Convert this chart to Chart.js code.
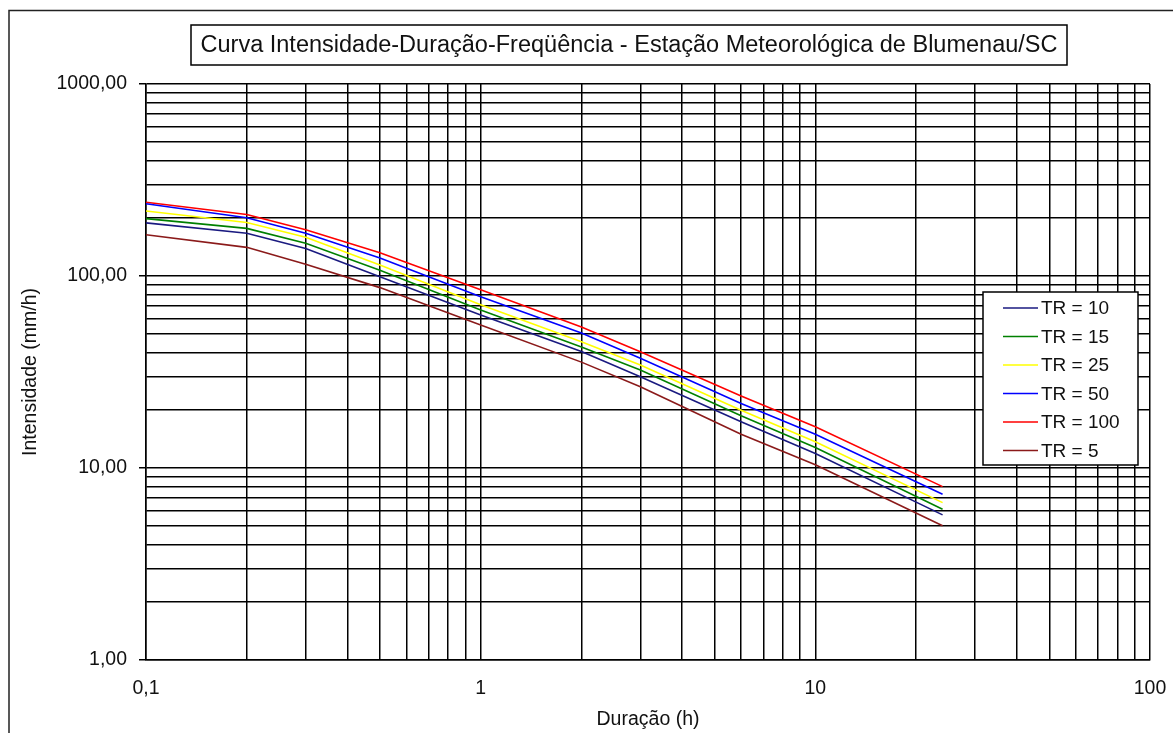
<!DOCTYPE html>
<html>
<head>
<meta charset="utf-8">
<script src="https://cdn.jsdelivr.net/npm/chart.js@4.4.0/dist/chart.umd.min.js"></script>
<style>
  html, body { margin: 0; padding: 0; background: #fff; }
  canvas { display: block; }
</style>
</head>
<body>
<canvas id="idf" width="1173" height="733"></canvas>
<script>
// durations (h) and intensities (mm/h)
const durations = [0.1, 0.2, 0.3, 0.5, 1, 2, 3, 6, 10, 24];
const tr10  = [189, 167, 139, 99, 62.7, 40.4, 29.9, 17.4, 11.9, 5.7];
const tr15  = [199, 177, 148, 107, 66.5, 42.7, 32.4, 18.7, 12.8, 6.1];
const tr25  = [218, 190, 159, 114, 70.8, 45.5, 34.4, 20.0, 13.7, 6.6];
const tr50  = [238, 201, 167, 124, 78.0, 50.5, 37.3, 21.7, 15.0, 7.3];
const tr100 = [242, 209, 174, 132, 84.9, 54.2, 40.3, 23.7, 16.4, 8.0];
const tr5   = [164, 141, 115, 87, 55.6, 35.6, 26.5, 15.0, 10.4, 5.0];

const seriesLabels = ['TR = 10', 'TR = 15', 'TR = 25', 'TR = 50', 'TR = 100', 'TR = 5'];
const seriesColors = ['#1a1a80', '#008000', '#ffff00', '#0000ff', '#ff0000', '#8b1a1a'];
const seriesValues = [tr10, tr15, tr25, tr50, tr100, tr5];

const xDecades = [0.1, 1, 10, 100];
const yDecades = [1, 10, 100, 1000];

const chartTitle = 'Curva Intensidade-Duração-Freqüência - Estação Meteorológica de Blumenau/SC';
const FONT = '"Liberation Sans", Arial, sans-serif';

// grid values 1..9 per decade, like the Excel log axis
function logGrid(decades) {
  let out = [];
  for (let i = 0; i < decades.length - 1; i++) {
    for (let m = 1; m <= 9; m++) out.push(+(decades[i] * m).toPrecision(6));
  }
  out.push(decades[decades.length - 1]);
  return out;
}

function isDecade(v) {
  const l = Math.log10(v);
  return Math.abs(l - Math.round(l)) < 1e-9;
}

const frame = {
  id: 'frame',
  afterDraw(chart) {
    const ctx = chart.ctx;
    ctx.save();
    // outer border (cut by the page on right and bottom)
    ctx.strokeStyle = '#222';
    ctx.lineWidth = 1.5;
    ctx.beginPath();
    ctx.moveTo(9, 733);
    ctx.lineTo(9, 10.5);
    ctx.lineTo(1173, 10.5);
    ctx.stroke();

    // title box
    ctx.fillStyle = '#fff';
    ctx.fillRect(191, 25, 876, 40);
    ctx.strokeStyle = '#000';
    ctx.lineWidth = 1.5;
    ctx.strokeRect(191, 25, 876, 40);
    ctx.fillStyle = '#111';
    ctx.font = '23.5px ' + FONT;
    ctx.textAlign = 'center';
    ctx.textBaseline = 'middle';
    ctx.fillText(chartTitle, 629, 46);

    // legend
    const lx = 983, ly = 292, lw = 155, lh = 173;
    ctx.fillStyle = '#fff';
    ctx.fillRect(lx, ly, lw, lh);
    ctx.strokeStyle = '#000';
    ctx.strokeRect(lx, ly, lw, lh);
    ctx.font = '19px ' + FONT;
    ctx.textAlign = 'left';
    chart.data.datasets.forEach((ds, i) => {
      const y = ly + 16 + i * 28.5;
      ctx.strokeStyle = ds.borderColor;
      ctx.lineWidth = 1.5;
      ctx.beginPath();
      ctx.moveTo(lx + 20, y);
      ctx.lineTo(lx + 55, y);
      ctx.stroke();
      ctx.fillStyle = '#111';
      ctx.fillText(ds.label, lx + 58, y + 1);
    });
    ctx.restore();
  }
};

const datasets = seriesLabels.map((label, i) => ({
  label: label,
  data: durations.map((d, j) => ({ x: d, y: seriesValues[i][j] })),
  borderColor: seriesColors[i],
  backgroundColor: seriesColors[i],
  borderWidth: 1.6,
  pointRadius: 0,
  tension: 0,
  fill: false
}));

new Chart(document.getElementById('idf'), {
  type: 'line',
  data: { datasets: datasets },
  options: {
    responsive: false,
    animation: false,
    layout: { padding: { top: 84, right: 23, bottom: 0, left: 0 } },
    plugins: {
      legend: { display: false },
      title: { display: false },
      tooltip: { enabled: false }
    },
    scales: {
      x: {
        type: 'logarithmic',
        min: 0.1,
        max: 100,
        afterBuildTicks: s => { s.ticks = logGrid(xDecades).map(v => ({ value: v })); },
        afterFit: s => { s.height = 73; s.paddingRight = 0; s.paddingLeft = 0; },
        grid: { color: '#000', lineWidth: 1.5, drawTicks: false },
        border: { color: '#000', width: 1.5 },
        ticks: {
          autoSkip: false,
          maxRotation: 0,
          padding: 17,
          color: '#111',
          font: { family: FONT, size: 19.5 },
          callback: v => isDecade(v) ? String(v).replace('.', ',') : ''
        },
        title: {
          display: true,
          text: 'Duração (h)',
          color: '#111',
          font: { family: FONT, size: 19.5 },
          padding: { top: 2, bottom: 2 }
        }
      },
      y: {
        type: 'logarithmic',
        min: 1,
        max: 1000,
        afterBuildTicks: s => { s.ticks = logGrid(yDecades).map(v => ({ value: v })); },
        afterFit: s => { s.width = 146; },
        grid: {
          color: '#000',
          lineWidth: 1.5,
          tickLength: 7,
          tickColor: c => (c.tick && isDecade(c.tick.value)) ? '#000' : 'rgba(0,0,0,0)'
        },
        border: { color: '#000', width: 1.5 },
        ticks: {
          autoSkip: false,
          padding: 12,
          color: '#111',
          font: { family: FONT, size: 19.5 },
          callback: v => isDecade(v) ? v.toFixed(2).replace('.', ',') : ''
        },
        title: {
          display: true,
          text: 'Intensidade (mm/h)',
          color: '#111',
          font: { family: FONT, size: 19.5 },
          padding: { top: 19, bottom: 19 }
        }
      }
    }
  },
  plugins: [frame]
});
</script>
</body>
</html>
